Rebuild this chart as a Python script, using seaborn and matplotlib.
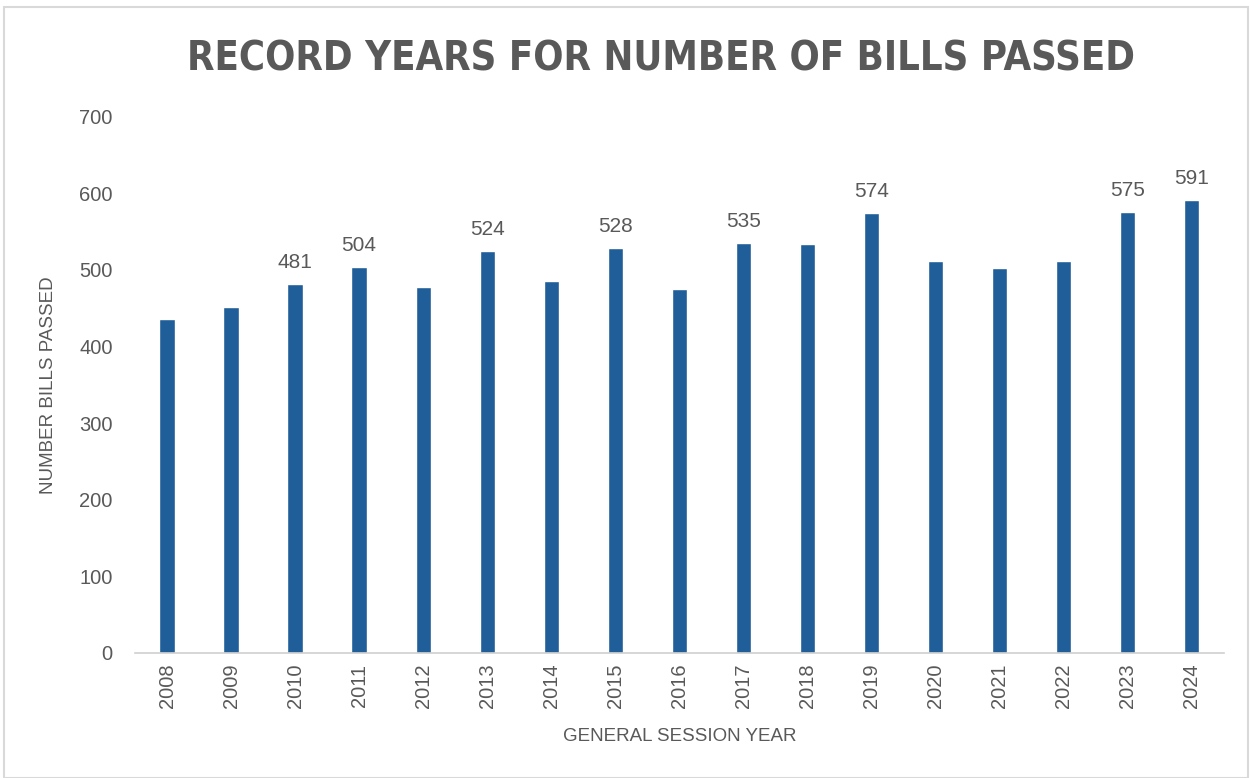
import numpy as np
import pandas as pd
import seaborn as sns
import matplotlib.pyplot as plt
from matplotlib.patches import Rectangle

# data
years = ['2008', '2009', '2010', '2011', '2012', '2013', '2014', '2015', '2016',
         '2017', '2018', '2019', '2020', '2021', '2022', '2023', '2024']
bills = [436, 451, 481, 504, 477, 524, 486, 528, 475,
         535, 534, 574, 511, 503, 512, 575, 591]
# years that get a value label
labelled = ['2010', '2011', '2013', '2015', '2017', '2019', '2023', '2024']

df = pd.DataFrame({'year': years, 'bills': bills})

sns.set_theme(style='white')
plt.rcParams['font.family'] = ['Liberation Sans', 'DejaVu Sans']
grey = '#595959'

fig = plt.figure(figsize=(12.5, 7.78), dpi=100)
ax = fig.add_axes([0.108, 0.161, 0.871, 0.689])

sns.barplot(data=df, x='year', y='bills', color='#1F5E99', width=0.24,
            saturation=1, ax=ax)

for i, (yr, v) in enumerate(zip(years, bills)):
    if yr in labelled:
        ax.text(i, v + 16, str(v), ha='center', va='bottom', fontsize=15, color=grey)

ax.set_ylim(0, 700)
ax.set_yticks(range(0, 701, 100))
ax.set_xlim(-0.5, len(years) - 0.5)
ax.tick_params(axis='x', labelrotation=90, labelsize=14.5, colors=grey, length=0, pad=8)
ax.tick_params(axis='y', labelsize=14.5, colors=grey, length=0, pad=16)
for s in ['top', 'right', 'left']:
    ax.spines[s].set_visible(False)
ax.spines['bottom'].set_color('#D0D0D0')
ax.spines['bottom'].set_linewidth(1.2)

ax.set_xlabel('GENERAL SESSION YEAR', fontsize=13.5, color=grey, labelpad=14)
ax.set_ylabel('NUMBER BILLS PASSED', fontsize=13.5, color=grey, labelpad=16)

fig.text(0.529, 0.924, 'RECORD YEARS FOR NUMBER OF BILLS PASSED', ha='center',
         va='center', fontsize=28.6, fontweight='bold', color=grey,
         family='DejaVu Sans', fontstretch='condensed')

# light frame around the chart area
fig.patches.append(Rectangle((0.003, 0.0), 0.995, 0.991, transform=fig.transFigure,
                             fill=False, edgecolor='#D9D9D9', linewidth=1.5))

fig.savefig('out.png', dpi=100)
